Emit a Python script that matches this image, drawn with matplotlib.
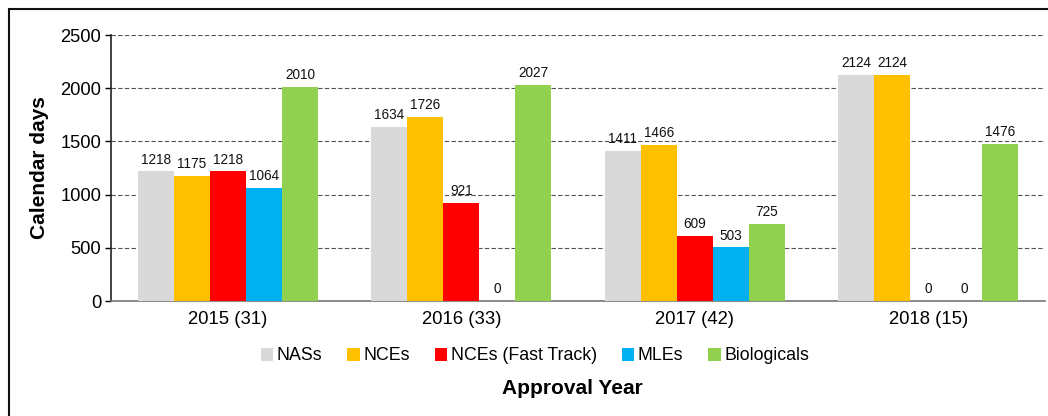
import matplotlib
matplotlib.use("Agg")
import matplotlib.pyplot as plt
import numpy as np
from matplotlib.patches import Rectangle

plt.rcParams['font.family'] = ['Liberation Sans', 'DejaVu Sans']

categories = ["2015 (31)", "2016 (33)", "2017 (42)", "2018 (15)"]
series_names = ["NASs", "NCEs", "NCEs (Fast Track)", "MLEs", "Biologicals"]
nas = [1218, 1634, 1411, 2124]
nces = [1175, 1726, 1466, 2124]
nces_fast = [1218, 921, 609, 0]
mles = [1064, 0, 503, 0]
biologicals = [2010, 2027, 725, 1476]
series_values = [nas, nces, nces_fast, mles, biologicals]
colors = ["#D9D9D9", "#FFC000", "#FF0000", "#00B0F0", "#92D050"]

fig = plt.figure(figsize=(10.48, 4.16), dpi=100)
ax = fig.add_axes([111/1048, 1 - 301/416, (1045-111)/1048, (301-35)/416])

x = np.arange(len(categories))
w = 0.1545
for i, (name, vals, c) in enumerate(zip(series_names, series_values, colors)):
    pos = x + (i - 2) * w
    bars = ax.bar(pos, vals, width=w, color=c, label=name, zorder=3)
    for b, v in zip(bars, vals):
        ax.annotate(f"{v}", (b.get_x() + b.get_width()/2, v), xytext=(0, 3.5),
                    textcoords="offset points", ha="center", va="bottom",
                    fontsize=9.8, color="#111111", zorder=4)

ax.set_xlim(-0.5, len(categories) - 0.5)
ax.set_ylim(0, 2500)
ax.set_yticks([0, 500, 1000, 1500, 2000, 2500])
ax.set_xticks(x)
ax.set_xticklabels(categories, fontsize=13.3)
ax.tick_params(axis='x', length=0, pad=7)
ax.tick_params(axis='y', labelsize=13.2, length=4, width=1, pad=3)
ax.yaxis.grid(True, linestyle=(0, (4, 2)), color="#555555", linewidth=0.8, zorder=0)
for s in ["top", "right"]:
    ax.spines[s].set_visible(False)
ax.spines["left"].set_color("#222222")
ax.spines["left"].set_linewidth(1.2)
ax.spines["bottom"].set_color("#777777")
ax.spines["bottom"].set_linewidth(1.2)

ax.set_ylabel("Calendar days", fontsize=15, fontweight="bold", labelpad=8)

handles, labels = ax.get_legend_handles_labels()
fig.legend(handles, labels, loc="center", bbox_to_anchor=(535/1048, 1 - 356/416),
           ncol=5, frameon=False, fontsize=12.8, handlelength=0.7, handleheight=0.7,
           handletextpad=0.2, columnspacing=1.4)
fig.text(572/1048, 1 - 388/416, "Approval Year", ha="center", va="center",
         fontsize=15, fontweight="bold")

fig.patches.append(Rectangle((9/1048, -0.1), 1.2, 1 - 9/416 + 0.1, transform=fig.transFigure,
                             fill=False, edgecolor="#111111", linewidth=1.5))

fig.savefig("out.png", dpi=100)
